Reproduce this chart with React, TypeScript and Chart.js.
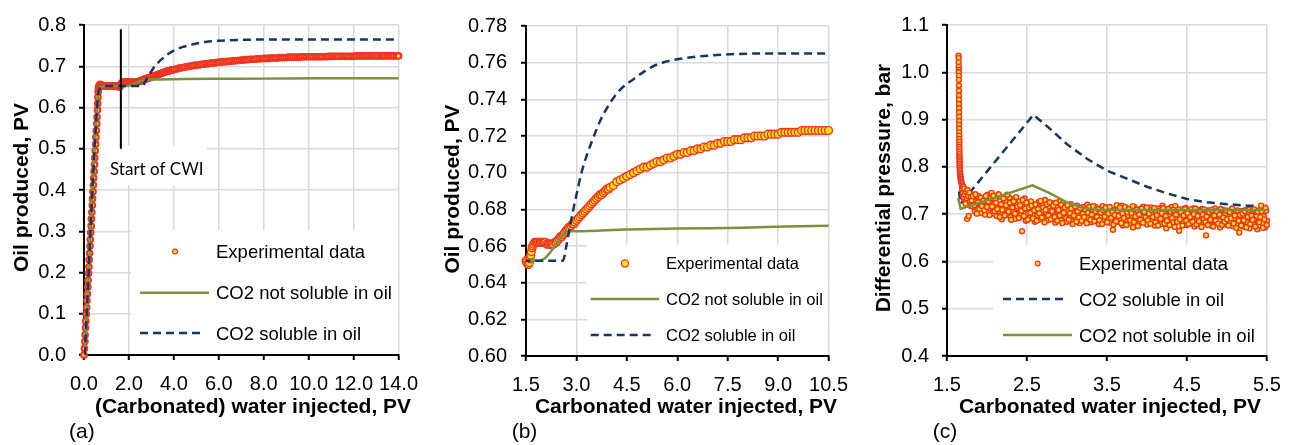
import { useEffect, useRef } from "react";
import { Chart, registerables } from "chart.js";

Chart.register(...registerables);

const SANS = '"Liberation Sans", Arial, Helvetica, sans-serif';
const NOTE_FONT = 'Lato, "Open Sans", sans-serif';
const RED = "#EE3524";
const YELLOW = "#FFE41C";
const GREEN = "#77933C";
const NAVY = "#17375E";
const GRID = "#D9D9D9";
const DASH = [8, 5];
const HEIGHT = 445;

type Pair = [number, number];

// Oil produced (PV) vs. water / carbonated water injected (PV), core flood measurements
const oilRecovery: Pair[] = [
  // waterflood
  [0.0, 0.0], [0.02, 0.016], [0.04, 0.033], [0.05, 0.049], [0.07, 0.066], [0.08, 0.082],
  [0.1, 0.099], [0.12, 0.115], [0.13, 0.132], [0.15, 0.148], [0.17, 0.165], [0.18, 0.181],
  [0.2, 0.198], [0.22, 0.214], [0.23, 0.231], [0.25, 0.247], [0.27, 0.264], [0.28, 0.28],
  [0.3, 0.297], [0.32, 0.313], [0.33, 0.33], [0.35, 0.346], [0.37, 0.363], [0.38, 0.379],
  [0.4, 0.396], [0.42, 0.412], [0.43, 0.429], [0.45, 0.445], [0.47, 0.462], [0.48, 0.478],
  [0.5, 0.495], [0.52, 0.511], [0.53, 0.528], [0.55, 0.544], [0.57, 0.561], [0.58, 0.577],
  [0.6, 0.594], [0.61, 0.61], [0.62, 0.625], [0.63, 0.638], [0.64, 0.646],
  [0.66, 0.651], [0.68, 0.653], [0.7, 0.655], [0.72, 0.656], [0.75, 0.655], [0.78, 0.654],
  [0.81, 0.653], [0.84, 0.653], [0.87, 0.652], [0.9, 0.652], [0.94, 0.652], [0.98, 0.652],
  [1.02, 0.652], [1.06, 0.652], [1.1, 0.652], [1.14, 0.652], [1.18, 0.652], [1.22, 0.652],
  [1.26, 0.652], [1.3, 0.652], [1.34, 0.652], [1.38, 0.652], [1.42, 0.652], [1.46, 0.652],
  // carbonated water injection
  [1.5, 0.652], [1.52, 0.651], [1.55, 0.65], [1.58, 0.65], [1.6, 0.651], [1.62, 0.653],
  [1.64, 0.655], [1.66, 0.657], [1.68, 0.659], [1.7, 0.66], [1.73, 0.661], [1.76, 0.662],
  [1.8, 0.662], [1.84, 0.662], [1.88, 0.662], [1.92, 0.662], [1.96, 0.662], [2.0, 0.662],
  [2.04, 0.662], [2.08, 0.662], [2.12, 0.661], [2.16, 0.661], [2.2, 0.661], [2.24, 0.661],
  [2.28, 0.661], [2.32, 0.661], [2.36, 0.662], [2.4, 0.662], [2.44, 0.663], [2.48, 0.664],
  [2.52, 0.665], [2.56, 0.665], [2.6, 0.666], [2.64, 0.667], [2.68, 0.668], [2.72, 0.669],
  [2.76, 0.67], [2.8, 0.67], [2.84, 0.671], [2.88, 0.672], [2.92, 0.672], [2.96, 0.673],
  [3.0, 0.674], [3.05, 0.675], [3.1, 0.676], [3.15, 0.677], [3.2, 0.678], [3.25, 0.679],
  [3.3, 0.68], [3.35, 0.681], [3.4, 0.682], [3.45, 0.683], [3.5, 0.684], [3.55, 0.685],
  [3.6, 0.686], [3.65, 0.687], [3.7, 0.688], [3.75, 0.688], [3.8, 0.689], [3.85, 0.69],
  [3.9, 0.691], [3.95, 0.691], [4.0, 0.692], [4.1, 0.693], [4.2, 0.695], [4.3, 0.696],
  [4.4, 0.697], [4.5, 0.698], [4.6, 0.699], [4.7, 0.7], [4.8, 0.701], [4.9, 0.702],
  [5.0, 0.703], [5.1, 0.703], [5.2, 0.704], [5.3, 0.705], [5.4, 0.706], [5.5, 0.706],
  [5.6, 0.707], [5.7, 0.708], [5.8, 0.708], [5.9, 0.709], [6.0, 0.71], [6.1, 0.71],
  [6.2, 0.711], [6.3, 0.711], [6.4, 0.712], [6.5, 0.712], [6.6, 0.713], [6.7, 0.713],
  [6.8, 0.714], [6.9, 0.714], [7.0, 0.715], [7.1, 0.715], [7.2, 0.716], [7.3, 0.716],
  [7.4, 0.717], [7.5, 0.717], [7.6, 0.717], [7.7, 0.718], [7.8, 0.718], [7.9, 0.718],
  [8.0, 0.719], [8.1, 0.719], [8.2, 0.719], [8.3, 0.72], [8.4, 0.72], [8.5, 0.72],
  [8.6, 0.72], [8.7, 0.721], [8.8, 0.721], [8.9, 0.721], [9.0, 0.721], [9.1, 0.722],
  [9.2, 0.722], [9.3, 0.722], [9.4, 0.722], [9.5, 0.722], [9.6, 0.722], [9.7, 0.723],
  [9.8, 0.723], [9.9, 0.723], [10.0, 0.723], [10.1, 0.723], [10.2, 0.723], [10.3, 0.723],
  [10.4, 0.723], [10.5, 0.723], [10.6, 0.723], [10.7, 0.723], [10.8, 0.723], [10.9, 0.724],
  [11.0, 0.724], [11.1, 0.724], [11.2, 0.724], [11.3, 0.724], [11.4, 0.724], [11.5, 0.724],
  [11.6, 0.724], [11.7, 0.724], [11.8, 0.724], [11.9, 0.724], [12.0, 0.724], [12.1, 0.725],
  [12.2, 0.725], [12.3, 0.725], [12.4, 0.725], [12.5, 0.725], [12.6, 0.725], [12.7, 0.725],
  [12.8, 0.725], [12.9, 0.725], [13.0, 0.725], [13.1, 0.725], [13.2, 0.725], [13.3, 0.725],
  [13.4, 0.725], [13.5, 0.725], [13.6, 0.725], [13.7, 0.725], [13.8, 0.725], [13.9, 0.725],
  [14.0, 0.725],
];

// Simulated oil production, CO2 not soluble in oil
const oilNotSoluble: Pair[] = [
  [0.03, 0.0], [0.62, 0.628], [0.66, 0.64], [0.72, 0.647], [0.8, 0.65], [0.9, 0.651],
  [1.0, 0.652], [1.9, 0.652], [2.6, 0.666], [2.7, 0.668], [3.0, 0.668], [4.5, 0.669],
  [6.0, 0.6695], [8.0, 0.67], [10.5, 0.671], [14.0, 0.671],
];

// Simulated oil production, CO2 soluble in oil
const oilSoluble: Pair[] = [
  [0.03, 0.0], [0.62, 0.628], [0.66, 0.64], [0.72, 0.647], [0.8, 0.65], [0.9, 0.651],
  [1.0, 0.652], [2.6, 0.652], [2.7, 0.66], [2.8, 0.67], [2.92, 0.681], [3.05, 0.692],
  [3.15, 0.7], [3.3, 0.709], [3.5, 0.719], [3.7, 0.728], [3.9, 0.735], [4.15, 0.742],
  [4.4, 0.747], [4.7, 0.751], [5.0, 0.755], [5.4, 0.759], [6.05, 0.762], [7.05, 0.764],
  [8.5, 0.765], [10.5, 0.765], [14.0, 0.765],
];

// Marker for the switch from water to carbonated water
const cwiStart: Pair[] = [[1.64, 0.5], [1.64, 0.79]];

// Differential pressure (bar) during carbonated water injection
const pressureSpike: Pair[] = [
  [1.645, 1.035], [1.646, 1.03], [1.646, 1.021], [1.647, 1.012], [1.647, 1.005], [1.648, 1.0],
  [1.648, 0.993], [1.648, 0.984], [1.649, 0.972], [1.649, 0.961], [1.65, 0.951], [1.65, 0.942],
  [1.65, 0.933], [1.651, 0.924], [1.651, 0.915], [1.651, 0.906], [1.652, 0.897], [1.652, 0.889],
  [1.652, 0.881], [1.653, 0.873], [1.653, 0.866], [1.653, 0.859], [1.654, 0.853], [1.654, 0.847],
  [1.654, 0.842], [1.655, 0.837], [1.655, 0.832], [1.655, 0.827], [1.656, 0.822], [1.656, 0.818],
  [1.657, 0.814], [1.657, 0.81], [1.658, 0.806], [1.659, 0.802], [1.66, 0.798], [1.661, 0.794],
  [1.662, 0.791], [1.663, 0.787], [1.665, 0.784], [1.667, 0.781], [1.669, 0.778], [1.672, 0.775],
  [1.675, 0.772], [1.678, 0.769], [1.682, 0.766], [1.686, 0.763], [1.69, 0.76], [1.694, 0.757],
  [1.698, 0.755],
];

const pressureLogA: Pair[] = [
  [1.69, 0.752], [1.697, 0.741], [1.704, 0.758], [1.712, 0.733], [1.72, 0.746], [1.728, 0.728],
  [1.736, 0.75], [1.744, 0.737], [1.752, 0.69], [1.76, 0.744], [1.768, 0.725], [1.776, 0.739],
  [1.784, 0.731], [1.792, 0.718], [1.8, 0.742], [1.816, 0.716], [1.832, 0.731], [1.848, 0.706],
  [1.864, 0.727], [1.88, 0.712], [1.896, 0.738], [1.912, 0.722], [1.928, 0.703], [1.944, 0.733],
  [1.96, 0.714], [1.976, 0.699], [1.992, 0.726], [2.008, 0.741], [2.024, 0.712], [2.04, 0.727],
  [2.056, 0.745], [2.072, 0.702], [2.088, 0.719], [2.104, 0.731], [2.12, 0.696], [2.136, 0.718],
  [2.152, 0.707], [2.168, 0.737], [2.184, 0.689], [2.198, 0.722], [2.214, 0.711], [2.23, 0.729],
  [2.246, 0.7], [2.262, 0.716], [2.278, 0.735], [2.294, 0.694], [2.31, 0.721], [2.326, 0.706],
  [2.342, 0.732], [2.358, 0.69], [2.374, 0.713], [2.39, 0.701], [2.406, 0.727], [2.422, 0.697],
  [2.438, 0.664], [2.454, 0.715], [2.47, 0.733], [2.486, 0.686], [2.502, 0.709], [2.518, 0.722],
  [2.534, 0.693], [2.55, 0.727], [2.566, 0.7], [2.582, 0.716], [2.598, 0.684], [2.614, 0.712],
  [2.63, 0.698], [2.646, 0.725], [2.662, 0.689], [2.678, 0.706], [2.694, 0.719], [2.71, 0.694],
  [2.726, 0.73], [2.742, 0.703], [2.758, 0.687], [2.774, 0.716], [2.79, 0.7], [2.806, 0.723],
  [2.822, 0.691], [2.838, 0.709], [2.854, 0.682], [2.87, 0.714], [2.886, 0.698], [2.902, 0.726],
  [2.918, 0.705], [2.934, 0.688], [2.95, 0.712], [2.966, 0.695], [2.982, 0.719], [2.998, 0.684],
  [3.014, 0.708], [3.03, 0.693], [3.046, 0.721], [3.062, 0.685], [3.078, 0.703], [3.094, 0.714],
  [3.11, 0.69], [3.126, 0.718], [3.142, 0.699], [3.158, 0.681], [3.174, 0.709], [3.19, 0.696],
  [3.206, 0.715], [3.222, 0.687], [3.238, 0.704], [3.254, 0.72], [3.27, 0.692], [3.286, 0.708],
  [3.302, 0.683], [3.318, 0.711], [3.334, 0.697], [3.35, 0.716], [3.366, 0.689], [3.382, 0.703],
  [3.398, 0.679], [3.414, 0.712], [3.43, 0.694], [3.446, 0.717], [3.462, 0.686], [3.478, 0.701],
  [3.494, 0.708], [3.51, 0.69], [3.526, 0.714], [3.542, 0.682], [3.558, 0.699], [3.574, 0.667],
  [3.59, 0.709], [3.606, 0.695], [3.622, 0.719], [3.638, 0.684], [3.654, 0.703], [3.67, 0.691],
  [3.686, 0.718], [3.698, 0.676], [3.714, 0.706], [3.73, 0.688], [3.746, 0.712], [3.762, 0.697],
  [3.778, 0.68], [3.794, 0.709], [3.81, 0.693], [3.826, 0.672], [3.842, 0.715], [3.858, 0.7],
  [3.874, 0.686], [3.89, 0.707], [3.906, 0.681], [3.922, 0.711], [3.938, 0.694], [3.954, 0.716],
  [3.97, 0.688], [3.986, 0.702], [4.002, 0.678], [4.018, 0.708], [4.034, 0.692], [4.05, 0.714],
  [4.066, 0.684], [4.082, 0.699], [4.098, 0.676], [4.114, 0.705], [4.13, 0.689], [4.146, 0.712],
  [4.162, 0.695], [4.178, 0.679], [4.194, 0.718], [4.21, 0.691], [4.226, 0.703], [4.242, 0.67],
  [4.258, 0.709], [4.274, 0.686], [4.29, 0.698], [4.306, 0.715], [4.322, 0.682], [4.338, 0.7],
  [4.354, 0.717], [4.37, 0.689], [4.386, 0.706], [4.402, 0.665], [4.418, 0.694], [4.434, 0.71],
  [4.45, 0.683], [4.466, 0.701], [4.482, 0.713], [4.498, 0.677], [4.514, 0.697], [4.53, 0.708],
  [4.546, 0.681], [4.562, 0.692], [4.578, 0.712], [4.594, 0.674], [4.61, 0.703], [4.626, 0.687],
  [4.642, 0.709], [4.658, 0.695], [4.674, 0.679], [4.69, 0.711], [4.706, 0.69], [4.722, 0.704],
  [4.738, 0.655], [4.754, 0.684], [4.77, 0.708], [4.786, 0.693], [4.802, 0.676], [4.818, 0.701],
  [4.834, 0.688], [4.85, 0.712], [4.866, 0.681], [4.882, 0.697], [4.898, 0.705], [4.914, 0.672],
  [4.93, 0.694], [4.946, 0.709], [4.962, 0.686], [4.978, 0.7], [4.994, 0.678], [5.01, 0.706],
  [5.026, 0.684], [5.042, 0.697], [5.058, 0.71], [5.074, 0.675], [5.09, 0.691], [5.106, 0.703],
  [5.122, 0.68], [5.138, 0.699], [5.154, 0.661], [5.17, 0.688], [5.186, 0.707], [5.202, 0.674],
  [5.218, 0.695], [5.234, 0.709], [5.25, 0.683], [5.266, 0.699], [5.282, 0.67], [5.298, 0.69],
  [5.314, 0.704], [5.33, 0.678], [5.346, 0.693], [5.362, 0.708], [5.378, 0.668], [5.394, 0.686],
  [5.41, 0.7], [5.426, 0.718], [5.442, 0.681], [5.458, 0.696], [5.474, 0.672], [5.49, 0.707],
  [5.5, 0.686],
];

const pressureLogB: Pair[] = [
  [1.7, 0.745], [1.708, 0.736], [1.716, 0.754], [1.724, 0.741], [1.732, 0.722], [1.74, 0.747],
  [1.748, 0.733], [1.756, 0.751], [1.764, 0.738], [1.772, 0.696], [1.78, 0.745], [1.788, 0.727],
  [1.796, 0.736], [1.808, 0.729], [1.824, 0.738], [1.84, 0.719], [1.856, 0.742], [1.872, 0.701],
  [1.888, 0.725], [1.904, 0.711], [1.92, 0.735], [1.936, 0.717], [1.952, 0.728], [1.968, 0.708],
  [1.984, 0.738], [2.0, 0.715], [2.016, 0.727], [2.032, 0.698], [2.048, 0.733], [2.064, 0.716],
  [2.08, 0.739], [2.096, 0.706], [2.112, 0.724], [2.128, 0.711], [2.144, 0.742], [2.16, 0.694],
  [2.176, 0.721], [2.192, 0.709], [2.206, 0.733], [2.222, 0.697], [2.238, 0.719], [2.254, 0.741],
  [2.27, 0.705], [2.286, 0.724], [2.302, 0.688], [2.318, 0.714], [2.334, 0.727], [2.35, 0.701],
  [2.366, 0.736], [2.382, 0.716], [2.398, 0.692], [2.414, 0.719], [2.43, 0.707], [2.446, 0.73],
  [2.462, 0.696], [2.478, 0.712], [2.494, 0.724], [2.51, 0.688], [2.526, 0.714], [2.542, 0.703],
  [2.558, 0.718], [2.574, 0.691], [2.59, 0.708], [2.606, 0.721], [2.622, 0.686], [2.638, 0.711],
  [2.654, 0.702], [2.67, 0.728], [2.686, 0.693], [2.702, 0.714], [2.718, 0.683], [2.734, 0.709],
  [2.75, 0.721], [2.766, 0.697], [2.782, 0.725], [2.798, 0.689], [2.814, 0.706], [2.83, 0.718],
  [2.846, 0.694], [2.862, 0.724], [2.878, 0.686], [2.894, 0.709], [2.91, 0.697], [2.926, 0.72],
  [2.942, 0.681], [2.958, 0.703], [2.974, 0.714], [2.99, 0.692], [3.006, 0.719], [3.022, 0.688],
  [3.038, 0.702], [3.054, 0.712], [3.07, 0.679], [3.086, 0.697], [3.102, 0.716], [3.118, 0.684],
  [3.134, 0.706], [3.15, 0.693], [3.166, 0.713], [3.182, 0.686], [3.198, 0.701], [3.214, 0.694],
  [3.23, 0.71], [3.246, 0.681], [3.262, 0.703], [3.278, 0.715], [3.294, 0.688], [3.31, 0.699],
  [3.326, 0.717], [3.342, 0.685], [3.358, 0.706], [3.374, 0.694], [3.39, 0.711], [3.406, 0.687],
  [3.422, 0.703], [3.438, 0.679], [3.454, 0.709], [3.47, 0.695], [3.486, 0.714], [3.502, 0.683],
  [3.518, 0.701], [3.534, 0.715], [3.55, 0.692], [3.566, 0.706], [3.582, 0.678], [3.598, 0.698],
  [3.614, 0.685], [3.63, 0.708], [3.646, 0.696], [3.662, 0.714], [3.678, 0.681], [3.694, 0.701],
  [3.71, 0.692], [3.726, 0.715], [3.742, 0.677], [3.758, 0.704], [3.774, 0.711], [3.79, 0.687],
  [3.806, 0.702], [3.822, 0.717], [3.838, 0.683], [3.854, 0.695], [3.87, 0.709], [3.886, 0.675],
  [3.902, 0.699], [3.918, 0.688], [3.934, 0.712], [3.95, 0.682], [3.966, 0.705], [3.982, 0.693],
  [3.998, 0.714], [4.01, 0.687], [4.026, 0.701], [4.042, 0.68], [4.058, 0.709], [4.074, 0.694],
  [4.09, 0.713], [4.106, 0.683], [4.122, 0.698], [4.138, 0.676], [4.154, 0.707], [4.17, 0.69],
  [4.186, 0.702], [4.202, 0.713], [4.218, 0.68], [4.234, 0.696], [4.25, 0.686], [4.266, 0.711],
  [4.282, 0.677], [4.298, 0.705], [4.314, 0.692], [4.33, 0.709], [4.346, 0.673], [4.362, 0.699],
  [4.378, 0.684], [4.394, 0.71], [4.41, 0.689], [4.426, 0.704], [4.442, 0.676], [4.458, 0.697],
  [4.474, 0.711], [4.49, 0.686], [4.506, 0.702], [4.522, 0.679], [4.538, 0.694], [4.554, 0.71],
  [4.57, 0.684], [4.586, 0.7], [4.602, 0.712], [4.618, 0.678], [4.634, 0.696], [4.65, 0.685],
  [4.666, 0.707], [4.682, 0.673], [4.698, 0.699], [4.714, 0.71], [4.73, 0.683], [4.746, 0.695],
  [4.762, 0.677], [4.778, 0.704], [4.794, 0.688], [4.81, 0.709], [4.826, 0.674], [4.842, 0.697],
  [4.858, 0.686], [4.874, 0.706], [4.89, 0.68], [4.906, 0.699], [4.922, 0.711], [4.938, 0.677],
  [4.954, 0.693], [4.97, 0.684], [4.986, 0.708], [5.002, 0.689], [5.018, 0.676], [5.034, 0.704],
  [5.05, 0.691], [5.066, 0.712], [5.082, 0.68], [5.098, 0.697], [5.114, 0.671], [5.13, 0.708],
  [5.146, 0.686], [5.162, 0.698], [5.178, 0.676], [5.194, 0.701], [5.21, 0.687], [5.226, 0.706],
  [5.242, 0.672], [5.258, 0.694], [5.274, 0.709], [5.29, 0.679], [5.306, 0.697], [5.322, 0.688],
  [5.338, 0.71], [5.354, 0.674], [5.37, 0.696], [5.386, 0.705], [5.402, 0.683], [5.418, 0.694],
  [5.434, 0.706], [5.45, 0.671], [5.466, 0.689], [5.482, 0.713], [5.498, 0.677],
];

// Simulated differential pressure, CO2 soluble in oil
const dpSoluble: Pair[] = [
  [1.65, 0.748], [1.67, 0.722], [2.58, 0.91], [2.75, 0.886], [3.0, 0.848], [3.25, 0.817],
  [3.5, 0.792], [3.75, 0.775], [4.0, 0.758], [4.25, 0.744], [4.5, 0.732], [4.75, 0.725],
  [5.0, 0.721], [5.25, 0.718], [5.5, 0.717],
];

// Simulated differential pressure, CO2 not soluble in oil
const dpNotSoluble: Pair[] = [
  [1.64, 0.734], [1.67, 0.711], [2.57, 0.761], [2.79, 0.744], [3.0, 0.725], [3.2, 0.713],
  [3.41, 0.709], [5.5, 0.709],
];

// Axis ticks
const xTicksA = [0, 2, 4, 6, 8, 10, 12, 14];
const yTicksA = [0, 0.1, 0.2, 0.3, 0.4, 0.5, 0.6, 0.7, 0.8];
const xTicksB = [1.5, 3, 4.5, 6, 7.5, 9, 10.5];
const yTicksB = [0.6, 0.62, 0.64, 0.66, 0.68, 0.7, 0.72, 0.74, 0.76, 0.78];
const xTicksC = [1.5, 2.5, 3.5, 4.5, 5.5];
const yTicksC = [0.4, 0.5, 0.6, 0.7, 0.8, 0.9, 1.0, 1.1];

const pts = (rows: Pair[]) => rows.map(([x, y]) => ({ x, y }));

type Axis = { min: number; max: number; ticks: number[]; digits: number; pad: number };
type LegendItem = { kind: "marker" | "solid" | "dash"; x0: number; x1: number; y: number; text: string };
type Note = { text: string; x: number; y: number; font: string };
type Panel = {
  tag: string;
  left: number;
  width: number;
  area: { left: number; top: number; right: number; bottom: number };
  x: Axis;
  y: Axis;
  xTitle: string;
  yTitle: string;
  xTitleAt: [number, number];
  yTitleAt: [number, number];
  tagAt: [number, number];
  blanks: [number, number, number, number][];
  notes: Note[];
  legend: { size: number; textX: number; markerR: number; markerBw: number; items: LegendItem[] };
  datasets: any[];
};

const lineClip = { left: 0, top: 0, right: 3, bottom: 0 };

const lineSet = (label: string, rows: Pair[], color: string, dashed: boolean, order: number, smooth: boolean) => ({
  label,
  data: pts(rows),
  showLine: true,
  borderColor: color,
  borderWidth: 2.5,
  borderDash: dashed ? DASH : [],
  pointRadius: 0,
  pointHoverRadius: 0,
  cubicInterpolationMode: smooth ? "monotone" : "default",
  tension: 0,
  order,
  clip: lineClip,
});

const pointSet = (rows: Pair[], r: number, bw: number, order: number) => ({
  label: "Experimental data",
  data: pts(rows),
  showLine: false,
  pointRadius: r,
  pointHoverRadius: r,
  pointBorderWidth: bw,
  pointBackgroundColor: YELLOW,
  pointBorderColor: RED,
  order,
  clip: 6,
});

const panels: Panel[] = [
  {
    tag: "(a)",
    left: 0,
    width: 430,
    area: { left: 84, top: 18, right: 399, bottom: 355 },
    x: { min: 0, max: 14, ticks: xTicksA, digits: 1, pad: 12 },
    y: { min: 0, max: 0.8, ticks: yTicksA, digits: 1, pad: 13 },
    xTitle: "(Carbonated) water injected, PV",
    yTitle: "Oil produced, PV",
    xTitleAt: [253, 412.5],
    yTitleAt: [28, 187.5],
    tagAt: [69, 438],
    blanks: [
      [98, 145.5, 207, 185.5],
      [131, 230, 397.6, 353.8],
    ],
    notes: [{ text: "Start of CWI", x: 110, y: 175, font: `17px ${NOTE_FONT}` }],
    legend: {
      size: 18.5,
      textX: 216,
      markerR: 2.4,
      markerBw: 1.2,
      items: [
        { kind: "marker", x0: 175, x1: 175, y: 251.5, text: "Experimental data" },
        { kind: "solid", x0: 140, x1: 209, y: 292.7, text: "CO2 not soluble in oil" },
        { kind: "dash", x0: 140, x1: 203, y: 333, text: "CO2 soluble in oil" },
      ],
    },
    datasets: [
      { ...lineSet("Start of CWI", cwiStart, "#000", false, 0, false), borderWidth: 2 },
      lineSet("CO2 soluble in oil", oilSoluble, NAVY, true, 1, true),
      lineSet("CO2 not soluble in oil", oilNotSoluble, GREEN, false, 2, true),
      pointSet(oilRecovery, 2.8, 2.1, 3),
    ],
  },
  {
    tag: "(b)",
    left: 430,
    width: 430,
    area: { left: 96, top: 17, right: 399, bottom: 356 },
    x: { min: 1.5, max: 10.5, ticks: xTicksB, digits: 1, pad: 12 },
    y: { min: 0.6, max: 0.78, ticks: yTicksB, digits: 2, pad: 14 },
    xTitle: "Carbonated water injected, PV",
    yTitle: "Oil produced, PV",
    xTitleAt: [256, 412.5],
    yTitleAt: [28.5, 189],
    tagAt: [81.7, 438],
    blanks: [[157, 244.5, 397.6, 354.8]],
    notes: [],
    legend: {
      size: 16.5,
      textX: 236,
      markerR: 3.6,
      markerBw: 1.3,
      items: [
        { kind: "marker", x0: 195, x1: 195, y: 263.5, text: "Experimental data" },
        { kind: "solid", x0: 160.7, x1: 229, y: 299, text: "CO2 not soluble in oil" },
        { kind: "dash", x0: 160.7, x1: 223, y: 335, text: "CO2 soluble in oil" },
      ],
    },
    datasets: [
      lineSet("CO2 soluble in oil", oilSoluble, NAVY, true, 1, true),
      lineSet("CO2 not soluble in oil", oilNotSoluble, GREEN, false, 2, true),
      pointSet(
        oilRecovery.filter(([x]) => x >= 1.5),
        3.9,
        1.4,
        3
      ),
    ],
  },
  {
    tag: "(c)",
    left: 860,
    width: 435,
    area: { left: 87, top: 18, right: 407, bottom: 356 },
    x: { min: 1.5, max: 5.5, ticks: xTicksC, digits: 1, pad: 12 },
    y: { min: 0.4, max: 1.1, ticks: yTicksC, digits: 1, pad: 13 },
    xTitle: "Carbonated water injected, PV",
    yTitle: "Differential pressure, bar",
    xTitleAt: [250, 412.5],
    yTitleAt: [30, 188],
    tagAt: [72.7, 438],
    blanks: [[133, 245, 405.6, 354.8]],
    notes: [],
    legend: {
      size: 18.5,
      textX: 219,
      markerR: 2.4,
      markerBw: 1.2,
      items: [
        { kind: "marker", x0: 177.7, x1: 177.7, y: 263.5, text: "Experimental data" },
        { kind: "dash", x0: 143, x1: 207, y: 299, text: "CO2 soluble in oil" },
        { kind: "solid", x0: 143, x1: 212, y: 335, text: "CO2 not soluble in oil" },
      ],
    },
    datasets: [
      lineSet("CO2 not soluble in oil", dpNotSoluble, GREEN, false, 1, false),
      pointSet([...pressureSpike, ...pressureLogA, ...pressureLogB], 2.5, 1.4, 2),
      lineSet("CO2 soluble in oil", dpSoluble, NAVY, true, 3, false),
    ],
  },
];

// White panels behind the legend and note, plus titles, legend and panel tag
function decor(p: Panel) {
  return {
    id: "decor",
    beforeDatasetsDraw(chart: Chart) {
      const { ctx } = chart;
      ctx.save();
      ctx.fillStyle = "#fff";
      for (const [x0, y0, x1, y1] of p.blanks) ctx.fillRect(x0, y0, x1 - x0, y1 - y0);
      ctx.restore();
    },
    afterDraw(chart: Chart) {
      const { ctx } = chart;
      ctx.save();
      ctx.fillStyle = "#000";
      ctx.textBaseline = "alphabetic";

      ctx.font = `bold 21px ${SANS}`;
      ctx.textAlign = "center";
      ctx.fillText(p.xTitle, p.xTitleAt[0], p.xTitleAt[1]);
      ctx.save();
      ctx.translate(p.yTitleAt[0], p.yTitleAt[1]);
      ctx.rotate(-Math.PI / 2);
      ctx.fillText(p.yTitle, 0, 0);
      ctx.restore();

      ctx.textAlign = "left";
      ctx.font = `21px ${SANS}`;
      ctx.fillText(p.tag, p.tagAt[0], p.tagAt[1]);

      for (const n of p.notes) {
        ctx.font = n.font;
        ctx.fillText(n.text, n.x, n.y);
      }

      const L = p.legend;
      for (const it of L.items) {
        if (it.kind === "marker") {
          ctx.beginPath();
          ctx.arc(it.x0, it.y, L.markerR, 0, Math.PI * 2);
          ctx.fillStyle = YELLOW;
          ctx.fill();
          ctx.lineWidth = L.markerBw;
          ctx.strokeStyle = RED;
          ctx.stroke();
        } else {
          ctx.beginPath();
          ctx.setLineDash(it.kind === "dash" ? DASH : []);
          ctx.strokeStyle = it.kind === "dash" ? NAVY : GREEN;
          ctx.lineWidth = 2.5;
          ctx.moveTo(it.x0, it.y);
          ctx.lineTo(it.x1, it.y);
          ctx.stroke();
          ctx.setLineDash([]);
        }
        ctx.fillStyle = "#000";
        ctx.font = `${L.size}px ${SANS}`;
        ctx.fillText(it.text, L.textX, it.y + 0.36 * L.size);
      }
      ctx.restore();
    },
  };
}

function axisOptions(a: Axis, horizontal: boolean, p: Panel) {
  return {
    type: "linear",
    position: horizontal ? "bottom" : "left",
    min: a.min,
    max: a.max,
    afterBuildTicks: (scale: any) => {
      scale.ticks = a.ticks.map((value) => ({ value }));
    },
    afterFit: (scale: any) => {
      if (horizontal) scale.height = HEIGHT - p.area.bottom;
      else scale.width = p.area.left;
    },
    grid: {
      color: GRID,
      lineWidth: 1.5,
      drawTicks: true,
      tickLength: 5,
      tickColor: "#000",
      tickWidth: 2,
    },
    border: { display: true, color: "#000", width: 2 },
    ticks: {
      font: { family: SANS, size: 20 },
      color: "#000",
      padding: a.pad,
      autoSkip: false,
      maxRotation: 0,
      minRotation: 0,
      callback: (v: number | string) => Number(v).toFixed(a.digits),
    },
    title: { display: false },
  };
}

function PanelChart({ panel }: { panel: Panel }) {
  const ref = useRef<HTMLCanvasElement>(null);
  useEffect(() => {
    if (!ref.current) return;
    const chart = new Chart(ref.current, {
      type: "scatter",
      data: { datasets: panel.datasets },
      options: {
        responsive: false,
        animation: false,
        devicePixelRatio: 1,
        events: [],
        layout: {
          padding: { left: 0, top: panel.area.top, right: panel.width - panel.area.right, bottom: 0 },
        },
        plugins: { legend: { display: false }, tooltip: { enabled: false } },
        scales: {
          x: axisOptions(panel.x, true, panel),
          y: axisOptions(panel.y, false, panel),
        },
      } as any,
      plugins: [decor(panel)],
    });
    return () => chart.destroy();
  }, [panel]);
  return (
    <canvas
      ref={ref}
      width={panel.width}
      height={HEIGHT}
      style={{ position: "absolute", left: panel.left, top: 0, width: panel.width, height: HEIGHT }}
    />
  );
}

export default function App() {
  return (
    <div style={{ position: "absolute", left: 0, top: 0, width: 1295, height: HEIGHT, background: "#fff" }}>
      {panels.map((p) => (
        <PanelChart key={p.tag} panel={p} />
      ))}
    </div>
  );
}
